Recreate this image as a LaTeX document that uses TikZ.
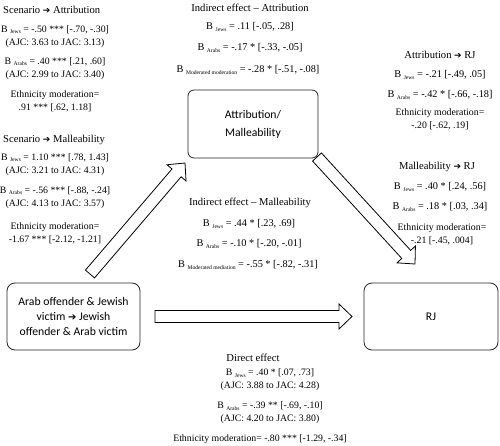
\documentclass[tikz,border=0pt]{standalone}
\usepackage{fontspec}
\setmainfont{Liberation Serif}
\newfontfamily\boxfont{Carlito}
\newfontfamily\arrfont{DejaVu Sans}
\usetikzlibrary{calc}
\newcommand\sbt[1]{\raisebox{-0.3ex}{\fontsize{5.6}{6}\selectfont #1}}
\newcommand\arr{{\arrfont\fontsize{9}{10}\selectfont ➔}}
\newcommand\barrow[3]{%
  \coordinate (#3) at ($(#2)!13pt!(#1)$);
  \draw[blockarrow] ($(#1)!6pt!90:(#2)$) -- ($(#3)!6pt!-90:(#1)$) -- ($(#3)!12.5pt!-90:(#1)$) -- (#2) -- ($(#3)!12.5pt!90:(#1)$) -- ($(#3)!6pt!90:(#1)$) -- ($(#1)!6pt!-90:(#2)$) -- cycle;}
\tikzset{
  stat/.style={font=\fontsize{9.8}{13}\selectfont, inner sep=0pt, align=center},
  statm/.style={font=\fontsize{10.3}{13}\selectfont, inner sep=0pt, align=center},
  ttl/.style={font=\fontsize{10.6}{12}\selectfont, inner sep=0pt},
  boxn/.style={draw=black!85, line width=0.8pt, rounded corners=8pt},
  boxtxt/.style={font=\boxfont\fontsize{11.7}{15}\selectfont, inner sep=0pt, align=center},
  blockarrow/.style={draw=black, line width=0.8pt, fill=white, line join=miter}
}
\begin{document}
\begin{tikzpicture}[x=1pt,y=-1pt]
\useasboundingbox (0,0) rectangle (500,446);
% boxes
\draw[boxn] (7,283) rectangle (140,350);
\node[boxtxt] (src) at (73.5,316.5) {Arab offender \& Jewish\\victim {\arrfont\fontsize{10}{10}\selectfont ➔} Jewish\\offender \& Arab victim};
\coordinate (srcE) at (140,316.5);
\draw[boxn, rounded corners=6pt] (188,90) rectangle (318,158);
\node[boxtxt, font=\boxfont\fontsize{11.7}{18}\selectfont] (med) at (253,124) {Attribution/\\Malleability};
\draw[boxn] (364,283) rectangle (498,350);
\node[boxtxt] (rj) at (431,316.5) {RJ};
\coordinate (rjW) at (364,316.5);
% block arrows
\coordinate (a1t) at ($(srcE)+(15,0)$);
\coordinate (a1h) at ($(rjW)-(12,0)$);
\barrow{a1t}{a1h}{a1b}
\coordinate (a2t) at (90,274);
\coordinate (a2h) at (185,163);
\barrow{a2t}{a2h}{a2b}
\coordinate (a3t) at (317,157);
\coordinate (a3h) at (415,264);
\barrow{a3t}{a3h}{a3b}
% left column
\node[ttl, anchor=west] (t1) at (3,10) {Scenario \arr{} Attribution};
\node[stat] (l1) at (55,36.5) {B \sbt{Jews} = -.50 *** [-.70, -.30]\\(AJC: 3.63 to JAC: 3.13)};
\node[stat] (l2) at (55,68.5) {B \sbt{Arabs} = .40 *** [.21, .60]\\(AJC: 2.99 to JAC: 3.40)};
\node[stat] (l3) at (55,101.5) {Ethnicity moderation=\\.91 *** [.62, 1.18]};
\node[ttl, anchor=west] (t2) at (3,140) {Scenario \arr{} Malleability};
\node[stat] (l4) at (55,164.5) {B \sbt{Jews} = 1.10 *** [.78, 1.43]\\(AJC: 3.21 to JAC: 4.31)};
\node[stat] (l5) at (55,197.5) {B \sbt{Arabs} = -.56 *** [-.88, -.24]\\(AJC: 4.13 to JAC: 3.57)};
\node[stat] (l6) at (55,233.5) {Ethnicity moderation=\\-1.67 *** [-2.12, -1.21]};
% middle top
\node[ttl] (t3) at (250,8) {Indirect effect – Attribution};
\node[statm] (m1) at (250,27) {B \sbt{Jews} = .11 [-.05, .28]};
\node[statm] (m2) at (250,48) {B \sbt{Arabs} = -.17 * [-.33, -.05]};
\node[statm] (m3) at (248,70) {B \sbt{Moderated moderation} = -.28 * [-.51, -.08]};
% middle lower
\node[ttl] (t4) at (250,203) {Indirect effect – Malleability};
\node[statm] (m4) at (249,224) {B \sbt{Jews} = .44 * [.23, .69]};
\node[statm] (m5) at (249,244) {B \sbt{Arabs} = -.10 * [-.20, -.01]};
\node[statm] (m6) at (248,265) {B \sbt{Moderated mediation} = -.55 * [-.82, -.31]};
% right column
\node[ttl] (t5) at (440,55) {Attribution \arr{} RJ};
\node[statm] (r1) at (440,75) {B \sbt{Jews} = -.21 [-.49, .05]};
\node[statm] (r2) at (440,95) {B \sbt{Arabs} = -.42 * [-.66, -.18]};
\node[stat] (r3) at (440,119.5) {Ethnicity moderation=\\-.20 [-.62, .19]};
\node[ttl] (t6) at (437,167) {Malleability \arr{} RJ};
\node[statm] (r4) at (440,187) {B \sbt{Jews} = .40 * [.24, .56]};
\node[statm] (r5) at (440,207) {B \sbt{Arabs} = .18 * [.03, .34]};
\node[stat] (r6) at (442,234.5) {Ethnicity moderation=\\-.21 [-.45, .004]};
% bottom
\node[ttl] (t7) at (253,358) {Direct effect};
\node[stat] (d1) at (270,380) {B \sbt{Jews} = .40 * [.07, .73]\\(AJC: 3.88 to JAC: 4.28)};
\node[stat] (d2) at (270,413) {B \sbt{Arabs} = -.39 ** [-.69, -.10]\\(AJC: 4.20 to JAC: 3.80)};
\node[stat] (d3) at (260,439) {Ethnicity moderation= -.80 *** [-1.29, -.34]};
\end{tikzpicture}
\end{document}
